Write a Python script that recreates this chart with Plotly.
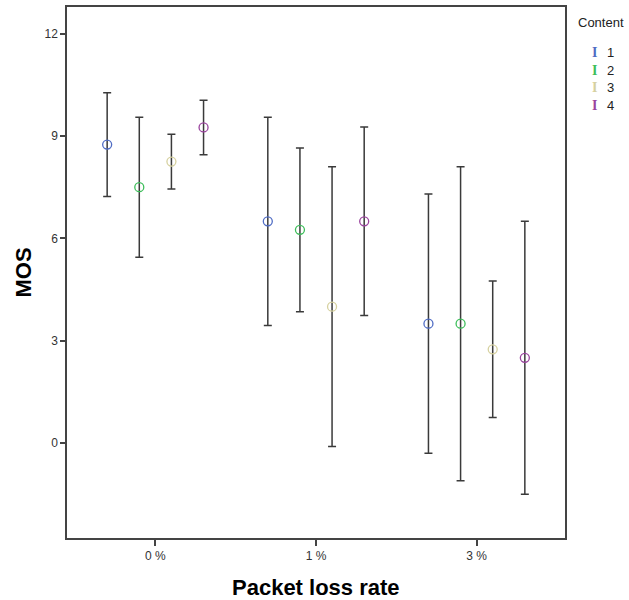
import plotly.graph_objects as go

categories = ["0 %", "1 %", "3 %"]
contents = ["1", "2", "3", "4"]
colors = ["#4F6CC4", "#3DBE5A", "#D6D1A0", "#9A449E"]

# mean MOS per content for each packet loss rate
means = {
    "1": [8.75, 6.50, 3.50],
    "2": [7.50, 6.25, 3.50],
    "3": [8.25, 4.00, 2.75],
    "4": [9.25, 6.50, 2.50],
}
# error bar half-widths
errors = {
    "1": [1.52, 3.05, 3.80],
    "2": [2.05, 2.40, 4.60],
    "3": [0.80, 4.10, 2.00],
    "4": [0.80, 2.76, 4.00],
}

y_ticks = [0, 3, 6, 9, 12]

fig = go.Figure()
n = len(contents)
for i, c in enumerate(contents):
    off = (i - (n - 1) / 2) * 0.2
    xs = [k + off for k in range(len(categories))]
    fig.add_trace(go.Scatter(
        x=xs, y=means[c], mode="markers", name=c, showlegend=False,
        marker=dict(symbol="circle-open", size=9, color=colors[i], line=dict(width=1.3, color=colors[i])),
        error_y=dict(type="data", array=errors[c], visible=True, color="#3a3a3a", thickness=1.5, width=4),
    ))

font_fam = "Liberation Sans, Arial, sans-serif"
fig.update_layout(
    width=629, height=600,
    margin=dict(l=67, r=64, t=7, b=62),
    plot_bgcolor="white", paper_bgcolor="white",
    font=dict(family=font_fam, color="#222"),
    xaxis=dict(
        range=[-0.55, 2.55], tickvals=list(range(len(categories))), ticktext=categories,
        showgrid=False, zeroline=False, showline=True, mirror=True, linecolor="#444", linewidth=1.5,
        ticks="outside", ticklen=6, tickwidth=1.5, tickcolor="#444",
        tickfont=dict(size=12, color="#333"), automargin=False,
    ),
    yaxis=dict(
        range=[-2.78, 12.78], tickvals=y_ticks, ticktext=[str(t) for t in y_ticks],
        showgrid=False, zeroline=False, showline=True, mirror=True, linecolor="#444", linewidth=1.5,
        ticks="outside", ticklen=5, tickwidth=1.5, tickcolor="#444",
        tickfont=dict(size=12, color="#333"), automargin=False,
    ),
)

W = 629 - 67 - 64
H = 600 - 7 - 62
ann = []
# axis titles
ann.append(dict(xref="paper", yref="paper", x=0.5, y=-(587 - 538) / H, xanchor="center", yanchor="middle",
                text="<b>Packet loss rate</b>", showarrow=False, font=dict(size=22, color="#000")))
ann.append(dict(xref="paper", yref="paper", x=-(67 - 23) / W, y=0.5, xanchor="center", yanchor="middle",
                text="<b>MOS</b>", textangle=-90, showarrow=False, font=dict(size=22, color="#000")))
# legend drawn as annotations
ann.append(dict(xref="paper", yref="paper", x=(576 - 67) / W, y=1 - (23 - 7) / H,
                xanchor="left", yanchor="middle", text="Content", showarrow=False,
                font=dict(size=13, color="#222")))
for i, c in enumerate(contents):
    yy = 1 - (52.7 + i * 17.6 - 7) / H
    ann.append(dict(xref="paper", yref="paper", x=(594 - 67) / W, y=yy,
                    xanchor="center", yanchor="middle", text="<b>I</b>", showarrow=False,
                    font=dict(family="Liberation Serif, DejaVu Serif, serif", size=14, color=colors[i])))
    ann.append(dict(xref="paper", yref="paper", x=(605 - 67) / W, y=yy,
                    xanchor="left", yanchor="middle", text=c, showarrow=False,
                    font=dict(size=13, color="#222")))
fig.layout.annotations = ann

fig.write_html("out.html")
